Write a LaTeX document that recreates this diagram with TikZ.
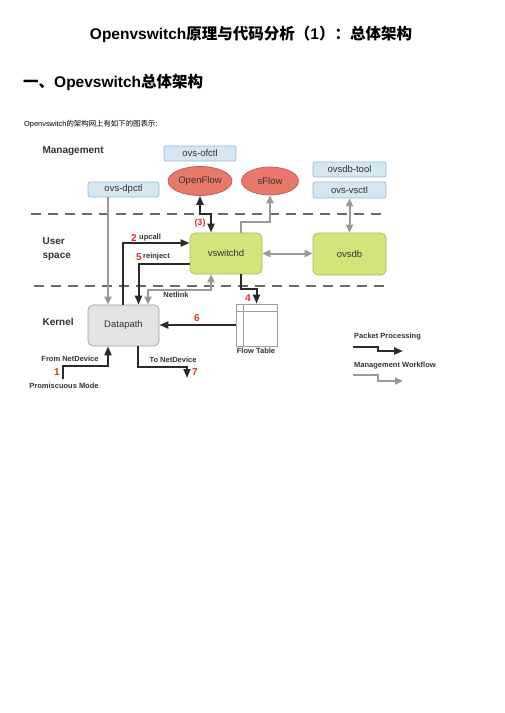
\documentclass[tikz,border=0pt]{standalone}
\usepackage{fontspec}
\setmainfont{Liberation Sans}
\newfontfamily\cjk{Noto Sans CJK SC}
\usetikzlibrary{arrows.meta,shapes.geometric}
\definecolor{vgreen}{HTML}{D4E47A}
\definecolor{vgreenb}{HTML}{A8B85A}
\definecolor{salmon}{HTML}{E8796A}
\definecolor{salmonb}{HTML}{C25A4C}
\definecolor{lblue}{HTML}{D5E7F3}
\definecolor{lblueb}{HTML}{9EB8CC}
\definecolor{dpgray}{HTML}{E3E3E3}
\definecolor{dpgrayb}{HTML}{A0A0A0}
\definecolor{dashc}{HTML}{6A6A6A}
\definecolor{arrg}{HTML}{999999}
\definecolor{arrk}{HTML}{2A2A2A}
\definecolor{redl}{HTML}{D9302C}
\definecolor{txt}{HTML}{333333}
\tikzset{
  tool/.style={draw=lblueb,fill=lblue,rounded corners=2pt,line width=0.7pt,font=\fontsize{9.5}{11}\selectfont,text=txt,inner sep=0pt},
  ell/.style={ellipse,draw=salmonb,fill=salmon,line width=0.7pt,font=\fontsize{9.5}{11}\selectfont,text=txt,inner sep=0pt},
  gbox/.style={draw=vgreenb,fill=vgreen,rounded corners=5pt,line width=0.7pt,font=\fontsize{9.5}{11}\selectfont,text=txt,inner sep=0pt},
  dbox/.style={draw=dpgrayb,fill=dpgray,rounded corners=5pt,line width=0.7pt,font=\fontsize{9.5}{11}\selectfont,text=txt,inner sep=0pt},
  blk/.style={draw=arrk,line width=2pt,-{Triangle[length=9pt,width=7pt]}},
  gry/.style={draw=arrg,line width=2pt,-{Triangle[length=8pt,width=7pt]}},
  dblk/.style={{Triangle[length=9pt,width=7pt]}-{Triangle[length=9pt,width=7pt]}},
  dgry/.style={{Triangle[length=8pt,width=7pt]}-{Triangle[length=8pt,width=7pt]}},
  sep/.style={draw=dashc,line width=2.6pt,dash pattern=on 10pt off 7pt},
  zone/.style={font=\fontsize{10}{13.5}\selectfont\bfseries,text=txt,anchor=west,align=left},
  sm/.style={font=\fontsize{7.5}{9}\selectfont\bfseries,text=txt,inner sep=0pt},
  num/.style={font=\fontsize{10}{12}\selectfont\bfseries,text=redl,inner sep=0pt},
}
\begin{document}
\begin{tikzpicture}[x=1pt,y=-1pt]
\useasboundingbox (0,0) rectangle (504,713);
% header texts
\node (title) at (251,34) {\bfseries\fontsize{15.5}{18}\selectfont Openvswitch{\cjk 原理与代码分析（}1{\cjk ）：总体架构}};
\node[anchor=west,inner sep=0pt] (head) at (23,82) {\bfseries\fontsize{15.5}{18}\selectfont {\cjk 一、}Opevswitch{\cjk 总体架构}};
\node[anchor=west,inner sep=0pt] (intro) at (24,124) {\fontsize{7.4}{8}\selectfont Openvswitch{\cjk 的架构网上有如下的图表示:}};
% separators
\coordinate (s1a) at (31,214); \coordinate (s1b) at (387,214);
\coordinate (s2a) at (34,286); \coordinate (s2b) at (387,286);
\draw[sep] (s1a) -- (s1b);
\draw[sep] (s2a) -- (s2b);
% zone labels
\node[zone] (lm) at (39,151) {Management};
\node[zone] (lu) at (39,249) {User\\space};
\node[zone] (lk) at (39,322) {Kernel};
% nodes
\node[tool,minimum width=72pt,minimum height=15pt] (ofctl) at (200,153.5) {ovs-ofctl};
\node[ell,minimum width=64pt,minimum height=29pt] (ofl) at (200,181) {OpenFlow};
\node[ell,minimum width=57pt,minimum height=28pt] (sflow) at (270,181) {sFlow};
\node[tool,minimum width=73pt,minimum height=15pt] (dbtool) at (349.5,169.5) {ovsdb-tool};
\node[tool,minimum width=73pt,minimum height=16pt] (vsctl) at (349.5,190) {ovs-vsctl};
\node[tool,minimum width=71pt,minimum height=15pt] (dpctl) at (123.5,189.5) {ovs-dpctl};
\node[gbox,minimum width=72pt,minimum height=41pt] (vsw) at (226,253.5) {vswitchd};
\node[gbox,minimum width=73pt,minimum height=42pt] (ovsdb) at (349.5,254) {ovsdb};
\node[dbox,minimum width=71pt,minimum height=41pt] (dp) at (123.5,325.5) {Datapath};
\node[draw=dpgrayb,fill=white,line width=0.8pt,minimum width=41pt,minimum height=42pt,inner sep=0pt] (ft) at (256.5,325) {};
\draw[dpgrayb,line width=0.8pt] ([yshift=-8pt]ft.north west) -- ([yshift=-8pt]ft.north east);
\draw[dpgrayb,line width=0.8pt] ([xshift=8pt]ft.north west) -- ([xshift=8pt]ft.south west);
\node[sm] (ftl) at (256,351) {Flow Table};
% connectors
\draw[gry] ([xshift=-15.5pt]dpctl.south) -- ([xshift=-15.5pt]dp.north);
\draw[blk,dblk] (ofl.south) -- ++(0,18.5) -| ([xshift=-15pt]vsw.north);
\node[num,font=\fontsize{9}{11}\selectfont\bfseries] (l3) at (200,223) {(3)};
\draw[gry] ([xshift=15pt]vsw.north) -- ++(0,-11) -| (sflow.south);
\draw[gry,dgry] (vsw.east) -- (ovsdb.west |- vsw.east);
\draw[gry,dgry] (vsctl.south) -- (ovsdb.north);
\draw[blk] ([xshift=-0.5pt]dp.north) |- ([yshift=10.5pt]vsw.west);
\node[num] (l2) at (134,238) {2};
\node[sm,anchor=west] (lup) at (139,238) {upcall};
\draw[blk] ([yshift=-10.5pt]vsw.west) -| ([xshift=15pt]dp.north);
\node[num] (l5) at (139,257) {5};
\node[sm,anchor=west] (lre) at (143,257) {reinject};
\draw[gry,dgry] ([xshift=-15pt]vsw.south) -- ++(0,16) -| ([xshift=24.5pt]dp.north);
\node[sm] (lnl) at (176,295) {Netlink};
\draw[blk] ([xshift=15pt]vsw.south) -- ++(0,15) -| (ft.north);
\node[num] (l4) at (248,298) {4};
\draw[blk] (ft.west) -- (dp.east |- ft.west);
\node[num] (l6) at (197,318) {6};
\coordinate (pm) at (63,379);
\draw[blk] (pm) -- ++(0,-13) -| ([xshift=-15.5pt]dp.south);
\node[num] (l1) at (57,372) {1};
\node[sm] (lfrom) at (70,359) {From NetDevice};
\node[sm] (lprom) at (64,386) {Promiscuous Mode};
\coordinate (out7) at (187,378);
\draw[blk] ([xshift=14.5pt]dp.south) -- ++(0,21) -| (out7);
\node[num] (l7) at (195,372) {7};
\node[sm] (lto) at (173,360) {To NetDevice};
% legend
\node[sm,anchor=west] (lpp) at (354,337) {Packet Processing};
\coordinate (lp1) at (353,347);
\draw[blk] (lp1) -- ++(25,0) -- ++(0,4) -- ++(25,0);
\node[sm,anchor=west] (lmw) at (354,366) {Management Workflow};
\coordinate (lm1) at (353,375);
\draw[gry] (lm1) -- ++(25,0) -- ++(0,6) -- ++(25,0);
\end{tikzpicture}
\end{document}
